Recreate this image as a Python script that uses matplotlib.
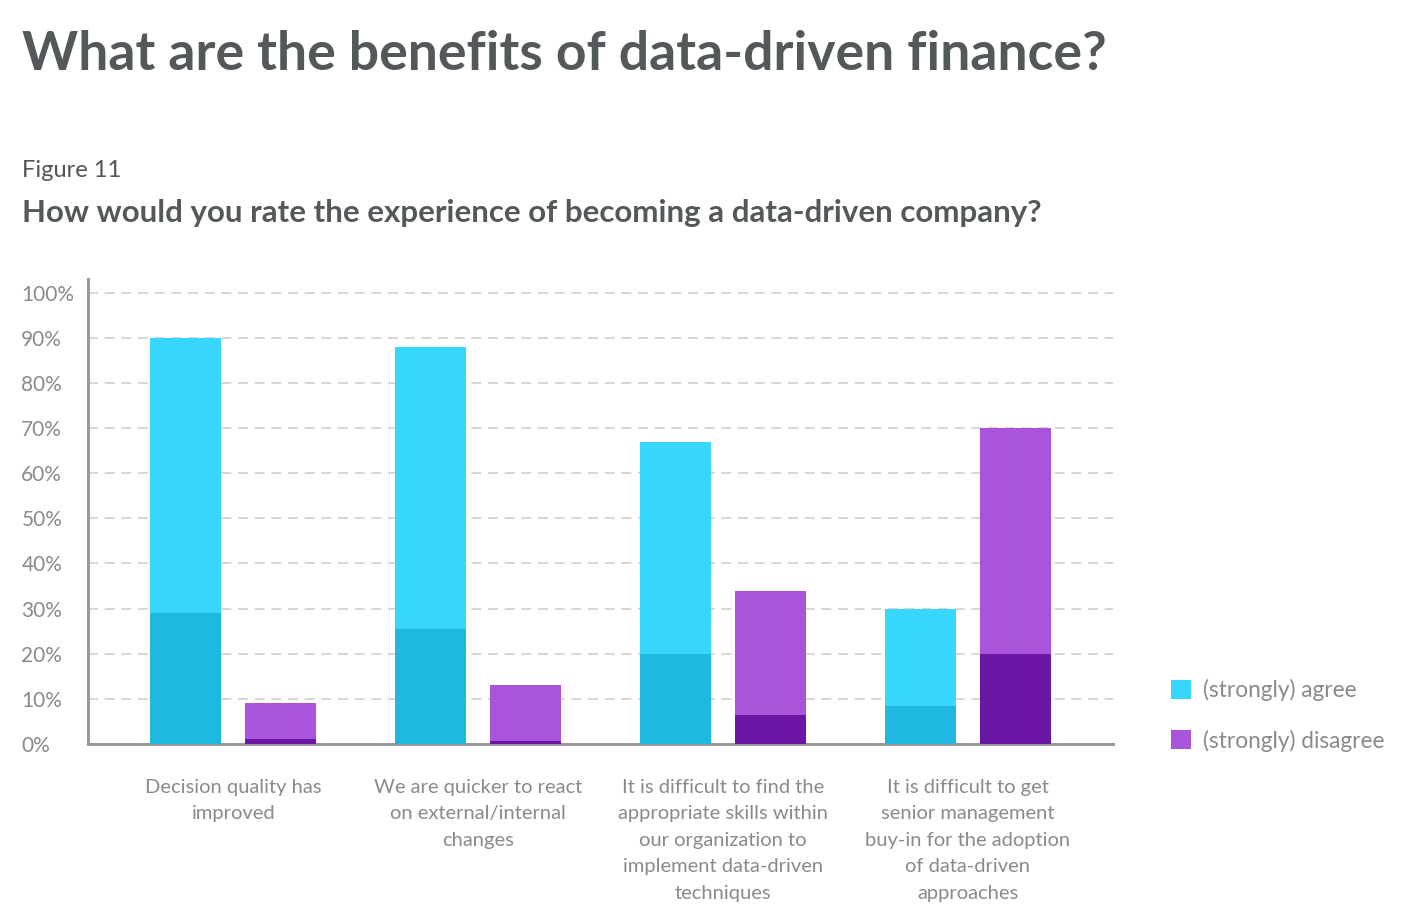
import matplotlib
matplotlib.use("Agg")
import matplotlib.pyplot as plt
import numpy as np
from matplotlib.patches import Patch

plt.rcParams['font.family'] = ['Lato', 'DejaVu Sans']

categories = [
    "Decision quality has\nimproved",
    "We are quicker to react\non external/internal\nchanges",
    "It is difficult to find the\nappropriate skills within\nour organization to\nimplement data-driven\ntechniques",
    "It is difficult to get\nsenior management\nbuy-in for the adoption\nof data-driven\napproaches",
]
agree_total = [90, 88, 67, 30]
agree_strong = [29, 25.5, 20, 8.5]
disagree_total = [9, 13, 34, 70]
disagree_strong = [1, 0.6, 6.5, 20]
yticks = [0, 10, 20, 30, 40, 50, 60, 70, 80, 90, 100]
ytick_labels = [f"{v}%" for v in yticks]

c_agree = "#38D6FC"
c_agree_dark = "#1EB8E0"
c_dis = "#A855DC"
c_dis_dark = "#6A17A6"
txt_gray = "#8a8a8a"
dark_txt = "#53585b"

W, H = 1408, 914
fig = plt.figure(figsize=(W / 100, H / 100), dpi=100)
ax = fig.add_axes([88 / W, 1 - 744 / H, (1113 - 88) / W, (744 - 279) / H])

x = np.arange(len(categories))
bw = 0.29
off = 0.194
agree_rest = [t - s for t, s in zip(agree_total, agree_strong)]
dis_rest = [t - s for t, s in zip(disagree_total, disagree_strong)]

ax.bar(x - off, agree_strong, bw, color=c_agree_dark, edgecolor="none", zorder=3)
ax.bar(x - off, agree_rest, bw, bottom=agree_strong, color=c_agree, edgecolor="none", zorder=3)
ax.bar(x + off, disagree_strong, bw, color=c_dis_dark, edgecolor="none", zorder=3)
ax.bar(x + off, dis_rest, bw, bottom=disagree_strong, color=c_dis, edgecolor="none", zorder=3)

ax.set_xlim(-0.594, 3.594)
ax.set_ylim(0, 103)

ax.set_yticks(yticks)
ax.set_yticklabels(ytick_labels)
for lab in ax.get_yticklabels():
    lab.set_horizontalalignment("left")
ax.tick_params(axis="y", length=0, pad=48, labelsize=15, labelcolor=txt_gray)

ax.set_xticks(x)
ax.set_xticklabels(categories, linespacing=1.68)
ax.tick_params(axis="x", length=0, pad=25, labelsize=14.5, labelcolor=txt_gray)

for v in yticks[1:]:
    ax.axhline(v, color="#d0d0d0", lw=1.2, ls=(0, (6, 4)), zorder=1)

for s in ["top", "right"]:
    ax.spines[s].set_visible(False)
for s in ["left", "bottom"]:
    ax.spines[s].set_color("#9a9a9a")
    ax.spines[s].set_linewidth(2.2)

fig.text(22 / W, 1 - 70 / H, "What are the benefits of data-driven finance?",
         fontsize=38.5, fontweight="bold", color=dark_txt, ha="left", va="baseline")
fig.text(22 / W, 1 - 177 / H, "Figure 11", fontsize=17, color="#555555",
         ha="left", va="baseline")
fig.text(22 / W, 1 - 222 / H, "How would you rate the experience of becoming a data-driven company?",
         fontsize=22.5, fontweight="bold", color=dark_txt, ha="left", va="baseline")

handles = [Patch(facecolor=c_agree, edgecolor="none"), Patch(facecolor=c_dis, edgecolor="none")]
leg = fig.legend(handles, ["(strongly) agree", "(strongly) disagree"],
                 loc="upper left", bbox_to_anchor=(1162 / W, 1 - 670 / H),
                 frameon=False, fontsize=16.3, labelcolor=txt_gray,
                 handlelength=0.9, handleheight=0.9, handletextpad=0.5,
                 labelspacing=1.25, borderaxespad=0)

fig.savefig("out.png", dpi=100)
